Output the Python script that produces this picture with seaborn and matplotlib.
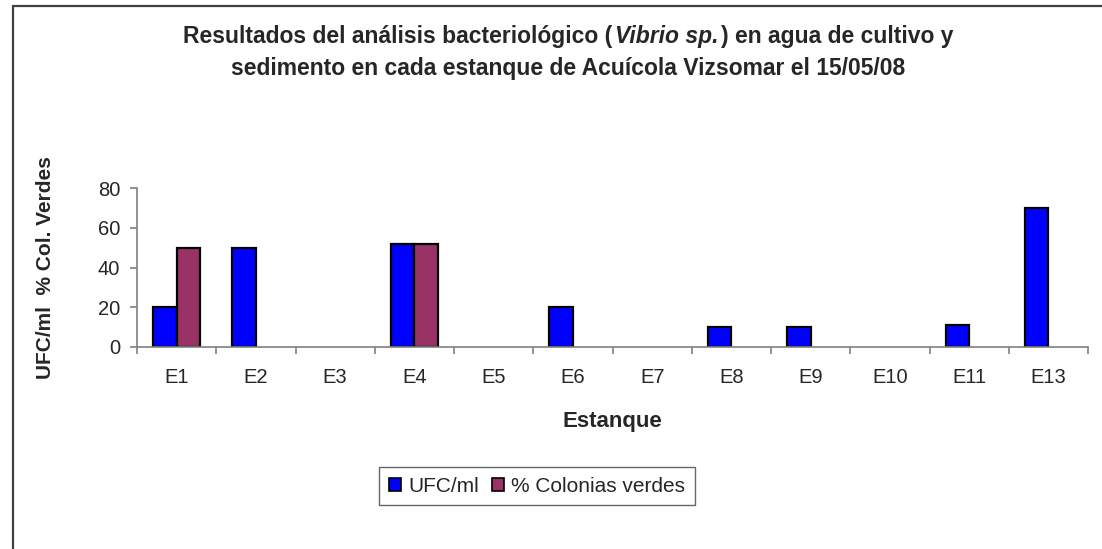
import matplotlib
matplotlib.use("Agg")
import matplotlib.pyplot as plt
from matplotlib.lines import Line2D
from matplotlib.offsetbox import TextArea, HPacker, AnchoredOffsetbox
import seaborn as sns
import pandas as pd
import numpy as np

# ---- data ----
estanques = ["E1", "E2", "E3", "E4", "E5", "E6", "E7", "E8", "E9", "E10", "E11", "E13"]
ufc_ml = [20, 50, 0, 52, 0, 20, 0, 10, 10, 0, 11, 70]
col_verdes = [50, 0, 0, 52, 0, 0, 0, 0, 0, 0, 0, 0]
series_names = ["UFC/ml", "% Colonias verdes"]
y_ticks = [0, 20, 40, 60, 80]

df = pd.DataFrame({
    "Estanque": estanques * 2,
    "valor": ufc_ml + col_verdes,
    "serie": [series_names[0]] * len(estanques) + [series_names[1]] * len(estanques),
})

sns.set_style("white")
plt.rcParams["font.family"] = ["Liberation Sans", "DejaVu Sans"]

W, H = 1102, 549
fig = plt.figure(figsize=(W / 100, H / 100), dpi=100)
ax = fig.add_axes([137 / W, 1 - 347 / H, (1088 - 137) / W, (347 - 188) / H])

sns.barplot(data=df, x="Estanque", y="valor", hue="serie", order=estanques,
            hue_order=series_names, palette=["#0000FF", "#993366"],
            width=0.59, edgecolor="black", linewidth=1.6, saturation=1,
            ax=ax, legend=True, errorbar=None)

for p in ax.patches:
    if p.get_height() == 0:
        p.set_linewidth(0)

ax.set_ylim(0, 80)
ax.set_xlim(-0.5, len(estanques) - 0.5)
ax.set_yticks(y_ticks)
ax.set_xticks(np.arange(len(estanques) + 1) - 0.5)
ax.set_xticklabels([])
ax.set_xticks(np.arange(len(estanques)), minor=True)
ax.set_xticklabels(estanques, minor=True)

gray = "#808080"
for s in ["top", "right"]:
    ax.spines[s].set_visible(False)
for s in ["left", "bottom"]:
    ax.spines[s].set_color(gray)
    ax.spines[s].set_linewidth(1.2)

ax.tick_params(axis="y", which="major", direction="out", length=5, width=1.2,
               color=gray, labelsize=14.5, pad=7, left=True)
ax.tick_params(axis="x", which="major", direction="out", length=5, width=1.2,
               color=gray, bottom=True)
ax.tick_params(axis="x", which="minor", length=0, labelsize=14.5, pad=15)

ax.set_xlabel("Estanque", fontsize=16, fontweight="bold")
ax.xaxis.label.set_va("center")
ax.xaxis.set_label_coords(0.5, (347 - 421) / 159)
ax.set_ylabel("UFC/ml  % Col. Verdes", fontsize=15, fontweight="bold")
ax.yaxis.label.set_va("center")
ax.yaxis.set_label_coords((46 - 137) / 951, 0.5)

# legend
ax.get_legend().remove()
handles = [plt.Rectangle((0, 0), 1, 1, facecolor=c, edgecolor="black", linewidth=1.2)
           for c in ["#0000FF", "#993366"]]
leg = fig.legend(handles, series_names, loc="center",
                 bbox_to_anchor=(537 / W, 1 - 486 / H), ncol=2, fontsize=15,
                 frameon=True, fancybox=False, handlelength=0.6, handleheight=0.6,
                 handletextpad=0.35, columnspacing=0.6, borderpad=0.45)
leg.get_frame().set_edgecolor("#404040")
leg.get_frame().set_linewidth(1.0)

# title
tsize = 16.5
t1 = TextArea("Resultados del análisis bacteriológico (",
              textprops=dict(fontsize=tsize, fontweight="bold"))
t2 = TextArea("Vibrio sp.", textprops=dict(fontsize=tsize, fontweight="bold", fontstyle="italic"))
t3 = TextArea(") en agua de cultivo y", textprops=dict(fontsize=tsize, fontweight="bold"))
line1 = HPacker(children=[t1, t2, t3], align="baseline", pad=0, sep=2)
ab1 = AnchoredOffsetbox(loc="center", child=line1, frameon=False,
                        bbox_to_anchor=(568 / W, 1 - 37 / H),
                        bbox_transform=fig.transFigure, pad=0, borderpad=0)
fig.add_artist(ab1)
fig.text(568 / W, 1 - 68 / H,
         "sedimento en cada estanque de Acuícola Vizsomar el 15/05/08",
         fontsize=tsize, fontweight="bold", ha="center", va="center")

# outer frame
fc = "#404040"
fig.add_artist(Line2D([13 / W, 1.0], [1 - 6 / H, 1 - 6 / H], color=fc, linewidth=1.6,
                      transform=fig.transFigure))
fig.add_artist(Line2D([13 / W, 13 / W], [0, 1 - 6 / H], color=fc, linewidth=1.6,
                      transform=fig.transFigure))

fig.savefig("out.png", dpi=100)
